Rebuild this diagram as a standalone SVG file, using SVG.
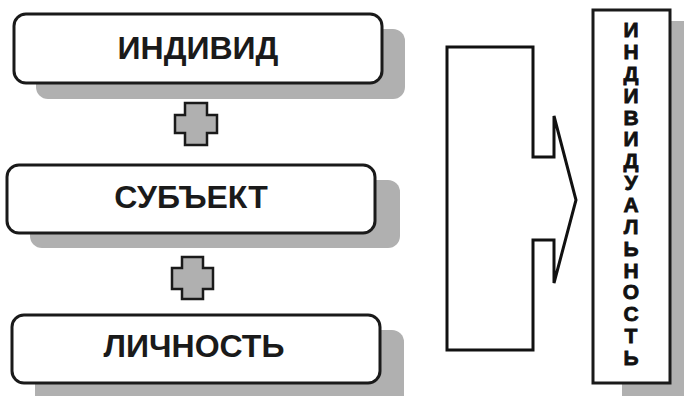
<svg xmlns="http://www.w3.org/2000/svg" width="684" height="396" viewBox="0 0 684 396">
<style>
.shadow{fill:#b0b0b0;stroke:none}
.box{fill:#fff;stroke:#1a1a1a;stroke-width:3}
.lbl{font-family:"Liberation Sans",Arial,sans-serif;font-weight:bold;font-size:32px;fill:#1a1a1a;text-anchor:middle}
.vl{font-family:"Liberation Sans",Arial,sans-serif;font-weight:bold;font-size:21px;fill:#111;text-anchor:middle;stroke:#111;stroke-width:0.8}
.plus{fill:#b0b0b0;stroke:#1a1a1a;stroke-width:2.5;stroke-linejoin:miter}
.arrow{fill:#fff;stroke:#111;stroke-width:3;stroke-linejoin:miter}
</style>
<rect width="684" height="396" fill="#fff"/>
<g id="individ">
<rect class="shadow" x="36" y="29" width="369" height="70" rx="12"/>
<rect class="box" x="14" y="14" width="368" height="69" rx="12"/>
<text class="lbl" x="198" y="59">ИНДИВИД</text>
</g>
<g id="subject">
<rect class="shadow" x="30" y="180" width="370" height="68" rx="12"/>
<rect class="box" x="7" y="165" width="368" height="68" rx="12"/>
<text class="lbl" x="191" y="208">СУБЪЕКТ</text>
</g>
<g id="lichnost">
<rect class="shadow" x="35" y="330" width="369" height="80" rx="12"/>
<rect class="box" x="12" y="315" width="368" height="68" rx="12"/>
<text class="lbl" x="194" y="357">ЛИЧНОСТЬ</text>
</g>
<g id="plus1">
<path class="plus" d="M185,103 H207 V115 H217 V133 H207 V145 H185 V133 H175 V115 H185 Z"/>
</g>
<g id="plus2">
<path class="plus" d="M182,257 H203 V268 H213 V289 H203 V299 H182 V289 H172 V268 H182 Z"/>
</g>
<g id="connectors">
<path class="arrow" d="M447,47 H533 V157 H554 V116 L576,200 L554,283 V240 H533 V350 H447 Z"/>
</g>
<g id="individualnost">
<rect class="shadow" x="622" y="21" width="80" height="380"/>
<rect class="box" x="593" y="10" width="77" height="373"/>
<text class="vl" x="631" y="37">И</text>
<text class="vl" x="631" y="58.9">Н</text>
<text class="vl" x="631" y="80.7">Д</text>
<text class="vl" x="631" y="102.6">И</text>
<text class="vl" x="631" y="124.5">В</text>
<text class="vl" x="631" y="146.3">И</text>
<text class="vl" x="631" y="168.2">Д</text>
<text class="vl" x="631" y="190.1">У</text>
<text class="vl" x="631" y="212">А</text>
<text class="vl" x="631" y="233.8">Л</text>
<text class="vl" x="631" y="255.7">Ь</text>
<text class="vl" x="631" y="277.6">Н</text>
<text class="vl" x="631" y="299.4">О</text>
<text class="vl" x="631" y="321.3">С</text>
<text class="vl" x="631" y="343.2">Т</text>
<text class="vl" x="631" y="365">Ь</text>
</g>
</svg>
